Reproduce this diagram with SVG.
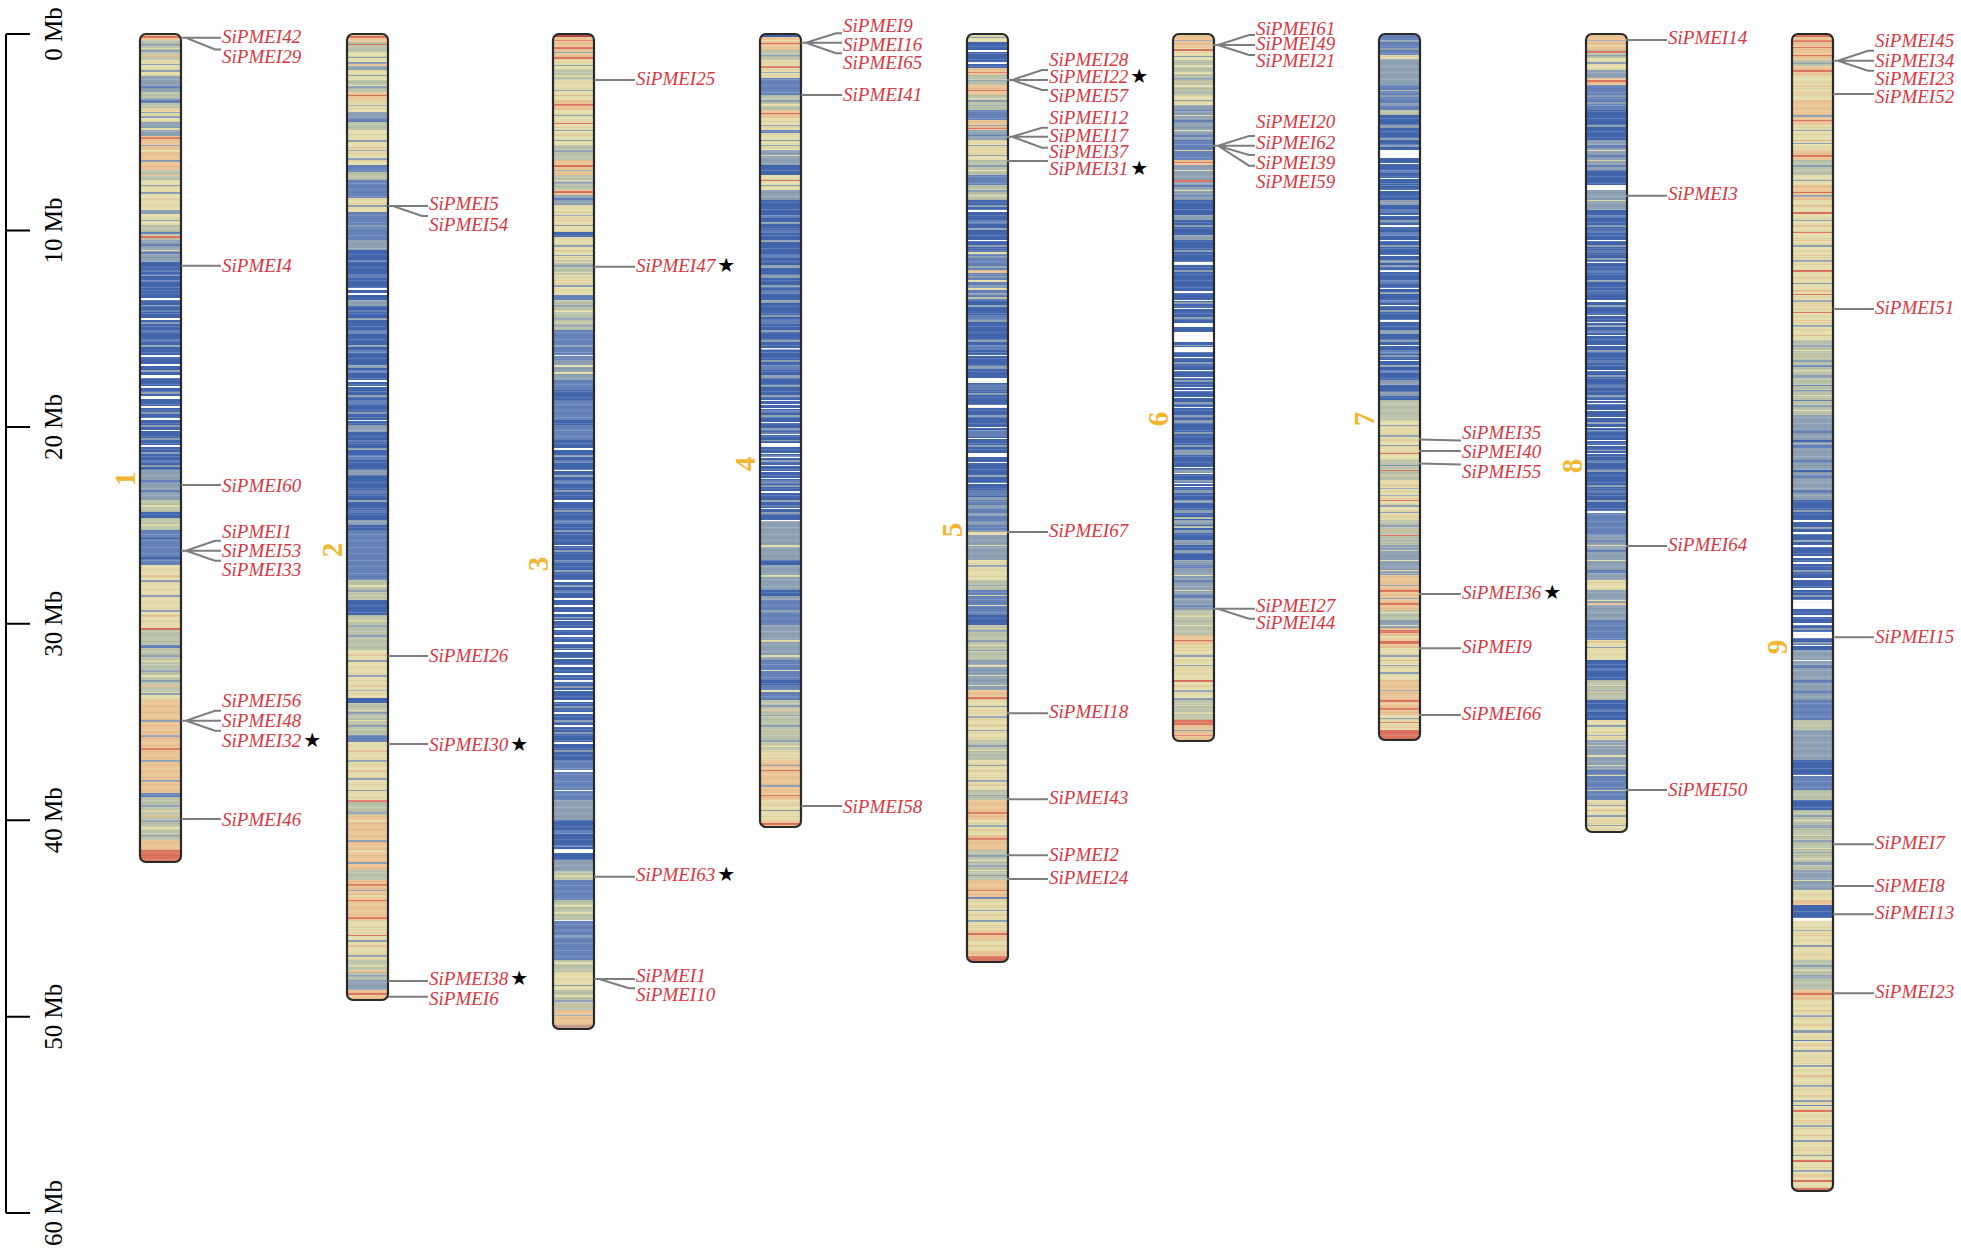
<svg xmlns="http://www.w3.org/2000/svg" width="1961" height="1256" viewBox="0 0 1961 1256">
<style>
.bd path{fill:none;stroke-width:41}
.B{stroke:#4266ae}.M{stroke:#6583b9}.G{stroke:#8fa2b5}.S{stroke:#bcc3ab}.C{stroke:#e5dcab}.P{stroke:#ebc596}.R{stroke:#dc7460}.W{stroke:#fff}.D{stroke:#b94a45}
.ol{fill:none;stroke:#2a2a2a;stroke-width:2.2}
.lk path{fill:none;stroke:#7d7d7d;stroke-width:2}
.lb{font-family:"Liberation Serif",serif;font-style:italic;font-size:19px;fill:#d9363e}
.st{font-family:"DejaVu Sans",sans-serif;font-style:normal;fill:#000;font-size:20px}
.cn{font-family:"Liberation Serif",serif;font-weight:bold;font-size:29px;fill:#f2b631;text-anchor:middle}
.ax{font-family:"Liberation Serif",serif;font-size:25px;fill:#000;text-anchor:middle}
</style>
<defs>
<pattern id="tx" width="41" height="13" patternUnits="userSpaceOnUse">
<rect y="1" width="41" height="1" fill="#fff" opacity=".16"/><rect y="4" width="41" height="1" fill="#000" opacity=".05"/><rect y="7" width="41" height="1" fill="#fff" opacity=".12"/><rect y="10" width="41" height="1" fill="#000" opacity=".05"/>
</pattern>
<clipPath id="k1"><rect y="34" width="41" height="828" rx="6"/></clipPath>
<clipPath id="k2"><rect y="34" width="41" height="966" rx="6"/></clipPath>
<clipPath id="k3"><rect y="34" width="41" height="995" rx="6"/></clipPath>
<clipPath id="k4"><rect y="34" width="41" height="793" rx="6"/></clipPath>
<clipPath id="k5"><rect y="34" width="41" height="928" rx="6"/></clipPath>
<clipPath id="k6"><rect y="34" width="41" height="707" rx="6"/></clipPath>
<clipPath id="k7"><rect y="34" width="41" height="706" rx="6"/></clipPath>
<clipPath id="k8"><rect y="34" width="41" height="798" rx="6"/></clipPath>
<clipPath id="k9"><rect y="34" width="41" height="1157" rx="6"/></clipPath>
</defs>
<rect width="1961" height="1256" fill="#fff"/>

<g id="axis">
<path d="M6 34V1213M6 34H30M6 230.5H30M6 427H30M6 623.7H30M6 820.2H30M6 1016.7H30M6 1213H30" fill="none" stroke="#000" stroke-width="2"/>
<text class="ax" transform="translate(62,34) rotate(-90)">0 Mb</text>
<text class="ax" transform="translate(62,230.5) rotate(-90)">10 Mb</text>
<text class="ax" transform="translate(62,427) rotate(-90)">20 Mb</text>
<text class="ax" transform="translate(62,623.7) rotate(-90)">30 Mb</text>
<text class="ax" transform="translate(62,820.2) rotate(-90)">40 Mb</text>
<text class="ax" transform="translate(62,1016.7) rotate(-90)">50 Mb</text>
<text class="ax" transform="translate(62,1213) rotate(-90)">60 Mb</text>
</g>

<g id="chr1">
<g transform="translate(140,0)"><g clip-path="url(#k1)"><g class="bd" transform="translate(20.5,0)">
<path class="P" d="M0 34V40M0 136V170M0 700V795M0 840V850"/>
<path class="S" d="M0 40V60M0 92V108M0 170V180M0 225V240M0 500V512M0 518V530M0 628V692M0 797V840"/>
<path class="C" d="M0 60V76M0 108V122M0 180V225M0 565V628M0 692V700"/>
<path class="G" d="M0 76V92M0 122V136M0 240V262M0 470V500"/>
<path class="B" d="M0 262V470M0 512V518"/>
<path class="M" d="M0 530V565M0 793V797"/>
<path class="R" d="M0 850V862"/>
<path class="G" d="M0 44V46M0 50V52M0 64V65M0 70V72M0 98V100M0 112V113M0 116V118M0 145V146M0 160V162M0 185V186M0 192V194M0 210V214M0 220V221M0 275V276M0 305V306M0 322V324M0 345V347M0 370V372M0 392V394M0 412V414M0 425V427M0 438V440M0 452V454M0 465V467M0 580V582M0 595V597M0 610V612M0 655V657M0 670V672M0 680V682M0 693V695M0 720V722M0 735V737M0 760V762M0 780V782M0 805V807M0 820V822M0 835V836"/>
<path class="C" d="M0 48V49M0 128V130M0 150V152M0 200V203M0 250V251M0 505V507M0 524V526M0 600V602M0 660V662M0 675V677M0 810V812M0 827V830"/>
<path class="P" d="M0 55V57M0 110V111M0 175V176M0 575V577M0 615V617M0 685V687M0 815V817"/>
<path class="M" d="M0 86V88M0 100V103M0 232V234M0 244V246M0 252V254M0 270V272M0 280V282M0 290V291M0 310V312M0 330V332M0 340V342M0 460V462M0 480V483M0 490V492M0 540V542M0 550V553M0 645V648"/>
<path class="B" d="M0 538V539M0 557V559"/>
<path class="R" d="M0 36V38M0 137V139M0 236V238M0 628V630M0 748V750"/>
<path class="W" d="M0 298V300M0 318V320M0 355V357M0 364V366M0 375V378M0 386V388M0 396V399M0 406V408M0 418V420M0 430V431M0 445V447"/>
</g><rect y="34" width="41" height="828" fill="url(#tx)"/></g>
<rect class="ol" y="34" width="41" height="828" rx="6"/></g>
<text class="cn" transform="translate(135,479) rotate(-90)">1</text>
<g class="lb">
<text x="222" y="42.5">SiPMEI42</text><text x="222" y="63">SiPMEI29</text><text x="222" y="272">SiPMEI4</text><text x="222" y="491.5">SiPMEI60</text>
<text x="222" y="538">SiPMEI1</text><text x="222" y="557">SiPMEI53</text><text x="222" y="575.5">SiPMEI33</text>
<text x="222" y="706.5">SiPMEI56</text><text x="222" y="726.5">SiPMEI48</text><text x="222" y="746.5">SiPMEI32<tspan class="st" dx="2">★</tspan></text>
<text x="222" y="825.5">SiPMEI46</text>
</g>
</g>

<g id="chr2">
<g transform="translate(347,0)"><g clip-path="url(#k2)"><g class="bd" transform="translate(20.5,0)">
<path class="P" d="M0 34V42M0 92V100M0 815V870M0 880V920M0 990V1000"/>
<path class="S" d="M0 42V52M0 80V92M0 122V130M0 172V180M0 580V600M0 615V650M0 703V735M0 800V815M0 870V880M0 960V980"/>
<path class="C" d="M0 52V62M0 70V80M0 100V112M0 130V165M0 198V212M0 650V698M0 742V800M0 920V960"/>
<path class="G" d="M0 62V70M0 112V118M0 240V250M0 980V990"/>
<path class="M" d="M0 118V122M0 165V172M0 180V198M0 212V240M0 530V580M0 735V742"/>
<path class="B" d="M0 250V530M0 600V615M0 698V703"/>
<path class="G" d="M0 57V58M0 75V76M0 86V88M0 105V106M0 140V142M0 150V151M0 158V160M0 205V207M0 225V227M0 245V246M0 300V306M0 318V320M0 345V347M0 365V368M0 395V397M0 412V414M0 425V432M0 448V450M0 470V475M0 500V502M0 520V525M0 590V592M0 625V627M0 635V637M0 660V662M0 675V677M0 690V691M0 712V714M0 725V727M0 760V762M0 778V780M0 790V791M0 812V814M0 840V842M0 862V864M0 890V891M0 940V942M0 955V957M0 975V977"/>
<path class="C" d="M0 85V86M0 136V137M0 145V146M0 155V156M0 585V587M0 595V596M0 620V622M0 710V711M0 720V721M0 820V822M0 850V852M0 895V897M0 965V967"/>
<path class="P" d="M0 64V66M0 148V149M0 203V204M0 655V656M0 685V686M0 750V752M0 770V772M0 930V931M0 945V947M0 970V972"/>
<path class="M" d="M0 260V262M0 275V278M0 310V312M0 330V334M0 350V353M0 370V373M0 400V404M0 440V442M0 455V460M0 490V494M0 510V513M0 550V552M0 560V563M0 570V572"/>
<path class="R" d="M0 36V38M0 44V45M0 95V96M0 800V802M0 884V886M0 900V901M0 917V919M0 935V936M0 993V995"/>
<path class="W" d="M0 288V290M0 293V295M0 380V382M0 386V387M0 420V421"/>
</g><rect y="34" width="41" height="966" fill="url(#tx)"/></g>
<rect class="ol" y="34" width="41" height="966" rx="6"/></g>
<text class="cn" transform="translate(342,550) rotate(-90)">2</text>
<g class="lb">
<text x="429" y="210">SiPMEI5</text><text x="429" y="230.7">SiPMEI54</text><text x="429" y="661.5">SiPMEI26</text>
<text x="429" y="750.5">SiPMEI30<tspan class="st" dx="2">★</tspan></text>
<text x="429" y="984.5">SiPMEI38<tspan class="st" dx="2">★</tspan></text><text x="429" y="1004.5">SiPMEI6</text>
</g>
</g>

<g id="chr3">
<g transform="translate(553,0)"><g clip-path="url(#k3)"><g class="bd" transform="translate(20.5,0)">
<path class="D" d="M0 34V37"/>
<path class="P" d="M0 37V60M0 100V110M0 160V175M0 190V195M0 1010V1025"/>
<path class="C" d="M0 60V70M0 80V100M0 110V145M0 205V232M0 237V260M0 275V295M0 972V990"/>
<path class="S" d="M0 70V80M0 145V160M0 175V190M0 260V275M0 300V330M0 870V880M0 900V920M0 960V972M0 990V1010"/>
<path class="G" d="M0 195V205M0 360V380M0 800V820M0 860V870"/>
<path class="B" d="M0 232V237M0 440V760M0 820V860"/>
<path class="M" d="M0 295V300M0 330V360M0 380V440M0 760V800M0 880V900M0 920V960"/>
<path class="R" d="M0 1025V1029" style="stroke:#c99b95"/>
<path class="G" d="M0 52V53M0 65V66M0 75V76M0 90V91M0 115V116M0 130V131M0 140V141M0 150V152M0 170V171M0 182V184M0 215V216M0 225V226M0 245V247M0 255V256M0 265V267M0 285V287M0 305V307M0 318V320M0 325V327M0 345V347M0 455V457M0 475V477M0 490V492M0 510V512M0 530V532M0 550V552M0 570V572M0 585V587M0 617V618M0 648V649M0 686V688M0 706V708M0 720V722M0 732V734M0 750V752M0 870V871M0 935V937M0 985V986M0 1000V1002M0 1015V1016"/>
<path class="C" d="M0 75V77M0 180V181M0 262V263M0 272V273M0 310V312M0 322V323M0 365V367M0 372V374M0 875V877M0 905V907M0 912V914M0 962V964M0 995V997"/>
<path class="P" d="M0 95V96M0 135V136M0 220V221M0 250V251M0 280V281M0 1005V1006"/>
<path class="M" d="M0 198V200M0 340V341M0 460V463M0 480V484M0 520V524M0 560V563M0 590V593M0 740V741M0 830V834M0 845V847"/>
<path class="B" d="M0 390V400M0 420V425"/>
<path class="R" d="M0 40V41M0 47V49M0 57V59M0 104V106M0 123V124M0 165V167M0 191V193"/>
<path class="W" d="M0 355V356M0 448V450M0 470V471M0 500V502M0 545V546M0 580V582M0 598V600M0 605V607M0 612V614M0 620V621M0 628V630M0 635V637M0 642V644M0 650V652M0 658V659M0 665V667M0 673V675M0 680V682M0 690V691M0 700V702M0 712V714M0 725V727M0 742V744M0 770V772M0 790V791M0 849V853M0 920V921"/>
</g><rect y="34" width="41" height="995" fill="url(#tx)"/></g>
<rect class="ol" y="34" width="41" height="995" rx="6"/></g>
<text class="cn" transform="translate(548,564) rotate(-90)">3</text>
<g class="lb">
<text x="636" y="84.5">SiPMEI25</text><text x="636" y="271.5">SiPMEI47<tspan class="st" dx="2">★</tspan></text>
<text x="636" y="881">SiPMEI63<tspan class="st" dx="2">★</tspan></text>
<text x="636" y="981.5">SiPMEI1</text><text x="636" y="1000.5">SiPMEI10</text>
</g>
</g>

<g id="chr4">
<g transform="translate(760,0)"><g clip-path="url(#k4)"><g class="bd" transform="translate(20.5,0)">
<path class="B" d="M0 34V37M0 165V175M0 200V520"/>
<path class="P" d="M0 37V50M0 110V118M0 760V800M0 820V827"/>
<path class="S" d="M0 50V60M0 95V110M0 700V750"/>
<path class="C" d="M0 60V78M0 118V130M0 133V150M0 175V190M0 750V760M0 800V820"/>
<path class="M" d="M0 78V95M0 130V133M0 600V625M0 660V700"/>
<path class="G" d="M0 150V165M0 190V200M0 520V600M0 625V660"/>
<path class="G" d="M0 55V56M0 72V73M0 100V102M0 125V126M0 140V141M0 145V146M0 185V186M0 222V224M0 240V242M0 265V268M0 275V278M0 285V287M0 300V303M0 315V317M0 330V332M0 340V342M0 360V362M0 375V378M0 385V387M0 395V397M0 415V417M0 428V430M0 440V441M0 460V462M0 485V487M0 500V502M0 512V514M0 530V532M0 610V612M0 705V707M0 715V716M0 725V727M0 740V742M0 765V766M0 785V787M0 810V811"/>
<path class="C" d="M0 40V41M0 104V106M0 155V156M0 545V547M0 560V561M0 575V577M0 640V642M0 655V657M0 670V671M0 690V692M0 745V747"/>
<path class="P" d="M0 48V49M0 710V711M0 732V733M0 755V756M0 805V806"/>
<path class="M" d="M0 215V218M0 230V233M0 255V258M0 290V294M0 320V324M0 365V370M0 410V413M0 432V434M0 455V458M0 480V484M0 505V507"/>
<path class="B" d="M0 560V565M0 590V596M0 680V685"/>
<path class="R" d="M0 43V44M0 66V68M0 113V114M0 180V181M0 770V771M0 795V796M0 823V825"/>
<path class="W" d="M0 348V349.5M0 400V401M0 404V405M0 408V409M0 422V423M0 434V435M0 443V447M0 453V454M0 457V458M0 465V466M0 471V472M0 478V479M0 491V493M0 508V509M0 520V521"/>
</g><rect y="34" width="41" height="793" fill="url(#tx)"/></g>
<rect class="ol" y="34" width="41" height="793" rx="6"/></g>
<text class="cn" transform="translate(755,464) rotate(-90)">4</text>
<g class="lb">
<text x="843" y="32">SiPMEI9</text><text x="843" y="50.5">SiPMEI16</text><text x="843" y="69">SiPMEI65</text>
<text x="843" y="101">SiPMEI41</text><text x="843" y="812.5">SiPMEI58</text>
</g>
</g>

<g id="chr5">
<g transform="translate(967,0)"><g clip-path="url(#k5)"><g class="bd" transform="translate(20.5,0)">
<path class="C" d="M0 34V42M0 140V160M0 560V580M0 700V740M0 760V790M0 820V835M0 900V930M0 940V950"/>
<path class="B" d="M0 42V68M0 200V250M0 300V500M0 615V625"/>
<path class="P" d="M0 68V75M0 85V95M0 120V130M0 690V700M0 800V820M0 835V850M0 880V900M0 930V940M0 950V956"/>
<path class="S" d="M0 75V85M0 95V110M0 160V175M0 185V200M0 580V590M0 625V660M0 740V760M0 790V800M0 850V880"/>
<path class="M" d="M0 110V120M0 175V185M0 250V300M0 500V530M0 590V615"/>
<path class="G" d="M0 130V140M0 530V560M0 660V690"/>
<path class="R" d="M0 956V962"/>
<path class="G" d="M0 37V38M0 80V81M0 100V102M0 105V106M0 125V126M0 145V146M0 155V156M0 165V167M0 190V192M0 205V207M0 228V230M0 245V247M0 256V258M0 266V268M0 276V278M0 285V287M0 293V295M0 305V307M0 320V322M0 340V342M0 366V369M0 393V395M0 415V417M0 445V447M0 475V477M0 497V500M0 505V508M0 513V516M0 522V525M0 540V542M0 565V567M0 585V586M0 630V632M0 640V642M0 650V651M0 706V707M0 716V718M0 730V731M0 745V747M0 755V756M0 765V766M0 780V782M0 795V796M0 825V827M0 855V857M0 865V867M0 875V876M0 910V911M0 920V922"/>
<path class="C" d="M0 98V99M0 170V171M0 195V196M0 252V254M0 280V282M0 288V290M0 532V535M0 545V546M0 595V596M0 605V606M0 628V629M0 645V646M0 665V667M0 675V676M0 685V686M0 750V751M0 860V861M0 870V871"/>
<path class="P" d="M0 150V151M0 270V273M0 710V711M0 725V726M0 770V771M0 785V786M0 830V831M0 905V906M0 915V916M0 925V926M0 945V946"/>
<path class="S" d="M0 297V299"/>
<path class="M" d="M0 135V136M0 180V181M0 220V224M0 315V320M0 345V350M0 385V390M0 430V436M0 490V495M0 670V671M0 897V899"/>
<path class="B" d="M0 463V473"/>
<path class="R" d="M0 72V73M0 90V91M0 128V129M0 697V699M0 812V814M0 838V840M0 890V891M0 933V935"/>
<path class="W" d="M0 50V52M0 62V64M0 210V212M0 240V241M0 355V356M0 378V383M0 405V408M0 427V428M0 438V439M0 453V457M0 462V463M0 483V484"/>
</g><rect y="34" width="41" height="928" fill="url(#tx)"/></g>
<rect class="ol" y="34" width="41" height="928" rx="6"/></g>
<text class="cn" transform="translate(962,530) rotate(-90)">5</text>
<g class="lb">
<text x="1049" y="66">SiPMEI28</text><text x="1049" y="83">SiPMEI22<tspan class="st" dx="2">★</tspan></text><text x="1049" y="101.5">SiPMEI57</text>
<text x="1049" y="123.5">SiPMEI12</text><text x="1049" y="141.5">SiPMEI17</text><text x="1049" y="158">SiPMEI37</text>
<text x="1049" y="174.5">SiPMEI31<tspan class="st" dx="2">★</tspan></text>
<text x="1049" y="536.5">SiPMEI67</text><text x="1049" y="718">SiPMEI18</text><text x="1049" y="804">SiPMEI43</text>
<text x="1049" y="860.5">SiPMEI2</text><text x="1049" y="884">SiPMEI24</text>
</g>
</g>

<g id="chr6">
<g transform="translate(1173,0)"><g clip-path="url(#k6)"><g class="bd" transform="translate(20.5,0)">
<path class="P" d="M0 34V48M0 160V165M0 635V645M0 725V741"/>
<path class="C" d="M0 48V60M0 95V105M0 645V700"/>
<path class="S" d="M0 60V95M0 610V635M0 700V720"/>
<path class="G" d="M0 105V140M0 165V200M0 560V610"/>
<path class="M" d="M0 140V160"/>
<path class="B" d="M0 200V560"/>
<path class="R" d="M0 720V725"/>
<path class="G" d="M0 40V41M0 56V57M0 78V80M0 92V93M0 100V101M0 215V220M0 225V227M0 235V240M0 250V252M0 270V272M0 302V304M0 317V319M0 345V346M0 362V364M0 380V382M0 402V404M0 415V417M0 420V423M0 432V434M0 445V447M0 450V455M0 470V474M0 480V482M0 490V493M0 500V503M0 510V513M0 520V525M0 530V533M0 540V545M0 550V553M0 655V657M0 665V666M0 690V692M0 698V700M0 730V731"/>
<path class="S" d="M0 517V519M0 526V528"/>
<path class="C" d="M0 65V67M0 72V74M0 85V87M0 98V99M0 115V116M0 130V131M0 170V171M0 190V191M0 575V576M0 590V591M0 615V617M0 625V626M0 705V706M0 712V714"/>
<path class="P" d="M0 52V53M0 82V83M0 150V151M0 650V651M0 670V671M0 685V686M0 718V719"/>
<path class="M" d="M0 110V111M0 120V122M0 135V137M0 145V147M0 185V187M0 195V197M0 565V568M0 580V582M0 595V598M0 605V607"/>
<path class="R" d="M0 49V51M0 162V163M0 180V182M0 640V641M0 680V682M0 735V736"/>
<path class="W" d="M0 262V265M0 291V293M0 300V301M0 308V309M0 323V327M0 332V342M0 347V352M0 357V358M0 370V371M0 377V378M0 387V388M0 390V391M0 397V398M0 407V408M0 467V468M0 473V474M0 483V484M0 486V487"/>
</g><rect y="34" width="41" height="707" fill="url(#tx)"/></g>
<rect class="ol" y="34" width="41" height="707" rx="6"/></g>
<text class="cn" transform="translate(1168,419) rotate(-90)">6</text>
<g class="lb">
<text x="1256" y="35">SiPMEI61</text><text x="1256" y="50">SiPMEI49</text><text x="1256" y="66.5">SiPMEI21</text>
<text x="1256" y="128">SiPMEI20</text><text x="1256" y="148.5">SiPMEI62</text><text x="1256" y="168.5">SiPMEI39</text><text x="1256" y="188">SiPMEI59</text>
<text x="1256" y="611.5">SiPMEI27</text><text x="1256" y="629">SiPMEI44</text>
</g>
</g>

<g id="chr7">
<g transform="translate(1379,0)"><g clip-path="url(#k7)"><g class="bd" transform="translate(20.5,0)">
<path class="M" d="M0 34V55M0 85V110"/>
<path class="C" d="M0 55V59M0 420V460M0 480V520M0 648V680M0 715V730"/>
<path class="G" d="M0 59V85M0 545V575M0 620V628"/>
<path class="S" d="M0 110V115M0 400V420M0 460V480M0 520V545M0 610V620"/>
<path class="B" d="M0 115V400"/>
<path class="P" d="M0 575V610M0 628V648M0 680V715"/>
<path class="R" d="M0 730V740"/>
<path class="G" d="M0 40V42M0 48V50M0 65V67M0 75V77M0 95V97M0 103V105M0 125V128M0 138V140M0 145V147M0 200V205M0 220V222M0 245V247M0 260V263M0 265V267M0 292V294M0 310V312M0 330V334M0 340V342M0 355V357M0 365V367M0 380V385M0 392V396M0 425V426M0 435V437M0 445V446M0 465V466M0 488V489M0 495V496M0 505V507M0 512V513M0 525V527M0 540V541M0 585V586M0 598V599M0 655V657M0 665V666M0 672V674M0 690V691M0 718V719"/>
<path class="S" d="M0 90V91"/>
<path class="C" d="M0 550V551M0 560V561M0 570V571M0 612V613M0 625V626M0 636V638"/>
<path class="P" d="M0 430V431M0 440V441M0 475V476M0 485V486M0 515V516M0 530V531M0 660V661M0 727V728"/>
<path class="M" d="M0 170V173M0 185V186M0 210V213M0 232V236M0 280V284M0 300V303M0 350V354M0 370V373"/>
<path class="R" d="M0 453V454M0 470V471M0 500V501M0 535V536M0 590V592M0 603V605M0 630V633M0 641V644M0 700V702M0 708V710M0 722V723M0 735V736"/>
<path class="W" d="M0 150V158M0 163V164M0 178V179M0 190V191M0 215V216M0 225V227M0 240V241M0 255V256M0 270V272M0 288V289M0 305V306M0 320V322M0 345V346M0 360V361"/>
</g><rect y="34" width="41" height="706" fill="url(#tx)"/></g>
<rect class="ol" y="34" width="41" height="706" rx="6"/></g>
<text class="cn" transform="translate(1374,419) rotate(-90)">7</text>
<g class="lb">
<text x="1462" y="439">SiPMEI35</text><text x="1462" y="458">SiPMEI40</text><text x="1462" y="477.5">SiPMEI55</text>
<text x="1462" y="599">SiPMEI36<tspan class="st" dx="2">★</tspan></text><text x="1462" y="653">SiPMEI9</text><text x="1462" y="720">SiPMEI66</text>
</g>
</g>

<g id="chr8">
<g transform="translate(1586,0)"><g clip-path="url(#k8)"><g class="bd" transform="translate(20.5,0)">
<path class="P" d="M0 34V50M0 78V85"/>
<path class="S" d="M0 50V58M0 680V700"/>
<path class="C" d="M0 58V70M0 580V590M0 640V660M0 720V740M0 800V832"/>
<path class="G" d="M0 70V78M0 140V170M0 190V210M0 535V580M0 590V620M0 740V770"/>
<path class="M" d="M0 85V110M0 510V535M0 620V640M0 770V800"/>
<path class="B" d="M0 110V140M0 170V185M0 210V510M0 660V680M0 700V720"/>
<path class="W" d="M0 185V190"/>
<path class="G" d="M0 40V41M0 55V56M0 62V64M0 95V97M0 102V104M0 125V127M0 195V196M0 203V205M0 225V227M0 245V247M0 258V260M0 280V282M0 305V307M0 325V327M0 350V352M0 375V377M0 395V397M0 422V424M0 450V451M0 470V472M0 485V487M0 500V502M0 595V596M0 610V611M0 647V648M0 690V691M0 725V727M0 735V736M0 805V806M0 815V817M0 825V826"/>
<path class="C" d="M0 45V46M0 66V67M0 150V151M0 160V161M0 200V201M0 545V546M0 560V561M0 600V601M0 655V656M0 685V686M0 745V746M0 755V757M0 765V766M0 775V776M0 790V791"/>
<path class="P" d="M0 603V605M0 642V643M0 692V693M0 810V811M0 820V821"/>
<path class="M" d="M0 145V148M0 155V158M0 165V167M0 215V218M0 230V233M0 250V253M0 270V273M0 290V292M0 330V333M0 360V363M0 385V388M0 430V432M0 460V463M0 490V493M0 540V542M0 550V552M0 570V573M0 668V670M0 710V712M0 780V782M0 795V797"/>
<path class="R" d="M0 51V53M0 80V82"/>
<path class="W" d="M0 240V241M0 262V263M0 300V302M0 315V316M0 322V323M0 335V336M0 345V346M0 370V371M0 400V401M0 403V404M0 410V411M0 417V418M0 427V428M0 440V441M0 445V446M0 453V454M0 511V513"/>
</g><rect y="34" width="41" height="798" fill="url(#tx)"/></g>
<rect class="ol" y="34" width="41" height="798" rx="6"/></g>
<text class="cn" transform="translate(1582,466) rotate(-90)">8</text>
<g class="lb">
<text x="1668" y="44">SiPMEI14</text><text x="1668" y="200">SiPMEI3</text><text x="1668" y="551">SiPMEI64</text><text x="1668" y="796">SiPMEI50</text>
</g>
</g>

<g id="chr9">
<g transform="translate(1792,0)"><g clip-path="url(#k9)"><g class="bd" transform="translate(20.5,0)">
<path class="R" d="M0 34V37"/>
<path class="P" d="M0 37V60M0 66V75M0 100V125M0 150V160M0 185V200M0 900V905M0 990V1000"/>
<path class="S" d="M0 60V66M0 160V175M0 340V415M0 720V730M0 790V800M0 810V870M0 960V990"/>
<path class="C" d="M0 75V100M0 125V150M0 175V185M0 200V340M0 890V900M0 921V960M0 1000V1191"/>
<path class="G" d="M0 415V500M0 650V700M0 730V760M0 870V890"/>
<path class="B" d="M0 500V650M0 760V775M0 800V810M0 905V918"/>
<path class="M" d="M0 700V720M0 775V790"/>
<path class="W" d="M0 918V921"/>
<path class="G" d="M0 63V64M0 115V117M0 130V131M0 143V144M0 165V167M0 180V181M0 195V197M0 220V221M0 245V247M0 260V262M0 283V284M0 300V302M0 325V327M0 345V347M0 360V362M0 375V378M0 390V392M0 405V407M0 510V512M0 527V529M0 540V542M0 570V572M0 595V597M0 628V630M0 642V644M0 730V733M0 745V747M0 815V817M0 825V828M0 840V842M0 852V853M0 862V865M0 930V931M0 945V947M0 965V967M0 975V978M0 1015V1017M0 1030V1033M0 1050V1052M0 1065V1067M0 1085V1087M0 1100V1102M0 1125V1127M0 1140V1142M0 1155V1156M0 1170V1172"/>
<path class="C" d="M0 350V351M0 370V371M0 395V396M0 410V411M0 725V726M0 820V821M0 835V836M0 848V849M0 858V859M0 880V881M0 970V971"/>
<path class="P" d="M0 85V87M0 92V94M0 140V141M0 205V207M0 225V227M0 240V241M0 255V256M0 278V279M0 290V292M0 305V306M0 320V321M0 335V336M0 355V356M0 935V936M0 955V956M0 1010V1011M0 1025V1026M0 1045V1046M0 1060V1061M0 1075V1077M0 1095V1096M0 1120V1121M0 1135V1136M0 1150V1151M0 1175V1177"/>
<path class="M" d="M0 365V367M0 385V386M0 400V401M0 430V433M0 445V448M0 460V463M0 475V478M0 490V493M0 665V668M0 680V683M0 690V693M0 1040V1041M0 1105V1106"/>
<path class="B" d="M0 440V442M0 470V472"/>
<path class="R" d="M0 40V42M0 47V48M0 55V56M0 70V72M0 120V121M0 155V157M0 192V193M0 212V214M0 232V233M0 270V272M0 294V295M0 312V313M0 993V995M0 1110V1112M0 1160V1162M0 1180V1182M0 1188V1190"/>
<path class="W" d="M0 520V522M0 532V534M0 545V547M0 556V558M0 562V564M0 578V580M0 588V590M0 600V609M0 615V617M0 623V625M0 632V638M0 645V646M0 660V661M0 775V776"/>
</g><rect y="34" width="41" height="1157" fill="url(#tx)"/></g>
<rect class="ol" y="34" width="41" height="1157" rx="6"/></g>
<text class="cn" transform="translate(1787,647) rotate(-90)">9</text>
<g class="lb">
<text x="1875" y="47">SiPMEI45</text><text x="1875" y="66.5">SiPMEI34</text><text x="1875" y="85">SiPMEI23</text><text x="1875" y="103">SiPMEI52</text>
<text x="1875" y="314">SiPMEI51</text><text x="1875" y="642.5">SiPMEI15</text><text x="1875" y="849">SiPMEI7</text>
<text x="1875" y="891.5">SiPMEI8</text><text x="1875" y="919">SiPMEI13</text><text x="1875" y="998">SiPMEI23</text>
</g>
</g>

<g id="connectors" class="lk">
<path d="M181 37.7H221M181 37.7h5L215 49.5H221M181 265.7H221M181 485H221"/>
<path d="M181 550.7h5L215 540.7H221M181 550.7H221M181 550.7h5L215 560.7H221"/>
<path d="M181 720.7h5L215 710.7H221M181 720.7H221M181 720.7h5L215 730.7H221M181 819H221"/>
<path d="M388 206H428M388 206h5L422 216H428M388 656H428M388 744H428M388 981H428M388 996.7H428"/>
<path d="M594 80H635M594 266.7H635M594 876.7H635M594 979H635M594 979h5L629 988.3H635"/>
<path d="M801 42.7h5L836 33.3H842M801 42.7H842M801 42.7h5L836 53.3H842M801 95H842M801 806H842"/>
<path d="M1007 80h5L1042 70H1048M1007 80H1048M1007 80h5L1042 90H1048"/>
<path d="M1007 136.7h5L1042 127.7H1048M1007 136.7H1048M1007 136.7h5L1042 147.7H1048M1007 161H1048"/>
<path d="M1007 532H1048M1007 713.3H1048M1007 799.3H1048M1007 855.3H1048M1007 879H1048"/>
<path d="M1213 45h5L1249 35H1255M1213 45H1255M1213 45h5L1249 55H1255"/>
<path d="M1213 145.7h5L1249 136H1255M1213 145.7H1255M1213 145.7h5L1249 155H1255M1213 145.7h5L1249 165.7H1255"/>
<path d="M1213 608.7H1255M1213 608.7h5L1249 618.7H1255"/>
<path d="M1419 439.5L1461 440.5M1419 451H1461M1419 463.5L1461 464.5M1419 594H1461M1419 648.3H1461M1419 715H1461"/>
<path d="M1626 40H1667M1626 195.7H1667M1626 546H1667M1626 790H1667"/>
<path d="M1833 60.7h5L1868 50.7H1874M1833 60.7H1874M1833 60.7h5L1868 70.7H1874M1833 94H1874"/>
<path d="M1833 309H1874M1833 637.3H1874M1833 844.3H1874M1833 886H1874M1833 914.3H1874M1833 993.3H1874"/>
</g>
</svg>
